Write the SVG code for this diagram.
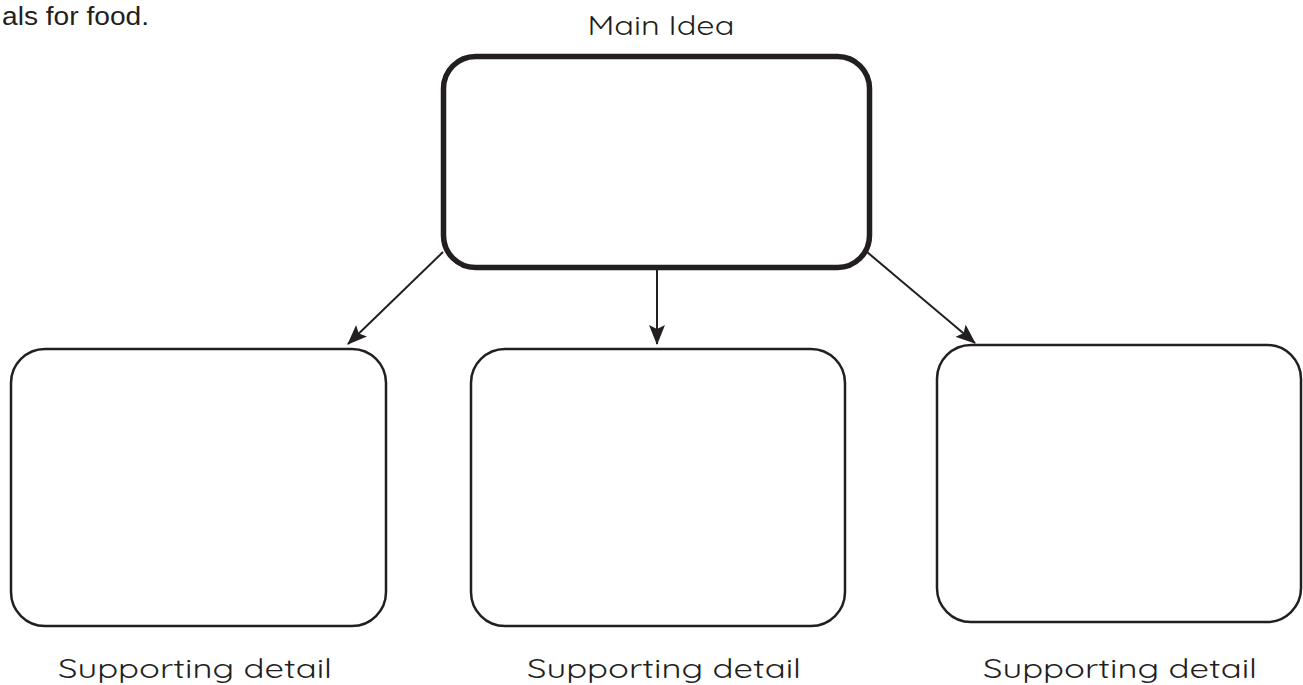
<svg xmlns="http://www.w3.org/2000/svg" width="1303" height="685" viewBox="0 0 1303 685">
<style>
.lbl{font-family:"Quicksand","Liberation Sans",Arial,sans-serif;fill:#231f20;font-size:27px}
.box{fill:none;stroke:#231f20;stroke-width:2.5}
.main{fill:none;stroke:#231f20;stroke-width:5.5}
.conn{stroke:#231f20;stroke-width:2;fill:none}
</style>
<defs>
<marker id="ah" viewBox="0 0 20 16" refX="19" refY="8" markerWidth="20" markerHeight="16" markerUnits="userSpaceOnUse" orient="auto">
<path d="M0,0 L20,8 L0,16 L4,8 Z" fill="#231f20"/>
</marker>
</defs>
<rect width="1303" height="685" fill="#fff"/>
<text x="2" y="25" textLength="147" lengthAdjust="spacingAndGlyphs" style="font-family:'Liberation Sans',Arial,sans-serif;font-size:26px;fill:#231f20">als for food.</text>
<g id="main">
<text class="lbl" x="661" y="35" text-anchor="middle" textLength="147" lengthAdjust="spacingAndGlyphs">Main Idea</text>
<rect class="main" x="443.5" y="56.5" width="426" height="211" rx="32" ry="32"/>
</g>
<g id="left">
<rect class="box" x="11" y="349" width="375" height="277" rx="34" ry="34"/>
<text class="lbl" x="195" y="678" text-anchor="middle" textLength="274" lengthAdjust="spacingAndGlyphs">Supporting detail</text>
</g>
<g id="middle">
<rect class="box" x="471" y="349" width="374" height="277" rx="34" ry="34"/>
<text class="lbl" x="664" y="678" text-anchor="middle" textLength="274" lengthAdjust="spacingAndGlyphs">Supporting detail</text>
</g>
<g id="right">
<rect class="box" x="937" y="345" width="364" height="277" rx="34" ry="34"/>
<text class="lbl" x="1120" y="678" text-anchor="middle" textLength="274" lengthAdjust="spacingAndGlyphs">Supporting detail</text>
</g>
<g id="connectors">
<line class="conn" x1="443" y1="252" x2="348" y2="344" marker-end="url(#ah)"/>
<line class="conn" x1="657" y1="270" x2="657" y2="344" marker-end="url(#ah)"/>
<line class="conn" x1="867" y1="252" x2="975" y2="343" marker-end="url(#ah)"/>
</g>
</svg>
